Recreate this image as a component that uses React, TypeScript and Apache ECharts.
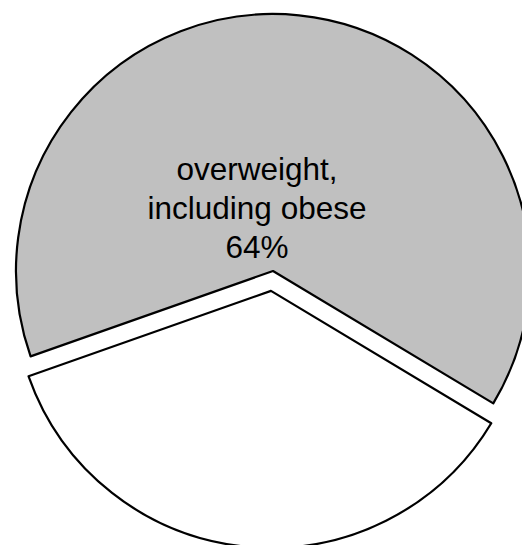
import React, { useEffect, useRef } from "react";
import * as echarts from "echarts";

const categories = ["overweight,\nincluding obese", "not overweight"];
const values = [64, 36];
const sliceColors = ["#c0c0c0", "#ffffff"];
const explodedFlags = [false, true];
const labelShown = [true, false];

export default function App() {
  const ref = useRef<HTMLDivElement>(null);
  useEffect(() => {
    if (!ref.current) return;
    const chart = echarts.init(ref.current, undefined, { renderer: "svg" });
    const data = categories.map((name, i) => ({
      name,
      value: values[i],
      selected: explodedFlags[i],
      itemStyle: { color: sliceColors[i], borderColor: "#000", borderWidth: 2.2 },
      select: { itemStyle: { color: sliceColors[i], borderColor: "#000", borderWidth: 2.2 } },
      label: { show: labelShown[i] },
    }));
    chart.setOption({
      animation: false,
      backgroundColor: "#ffffff",
      series: [
        {
          type: "pie",
          center: [273, 271],
          radius: [0, 257],
          startAngle: 199.4,
          clockwise: true,
          selectedMode: "single",
          selectedOffset: 20,
          avoidLabelOverlap: false,
          emphasis: { disabled: true },
          labelLine: { show: false },
          label: {
            position: "inside",
            formatter: (p: any) => `${p.name}\n${p.value}%`,
            fontFamily: "Liberation Sans, Arial, sans-serif",
            fontSize: 31.5,
            lineHeight: 39,
            color: "#000",
            align: "center",
          },
          labelLayout: (p: any) =>
            p.dataIndex === 0
              ? { x: 257, y: 208, align: "center", verticalAlign: "middle" }
              : {},
          data,
        },
      ],
    });
    return () => chart.dispose();
  }, []);
  return (
    <div
      ref={ref}
      style={{ position: "fixed", left: 0, top: 0, width: 522, height: 545 }}
    />
  );
}
